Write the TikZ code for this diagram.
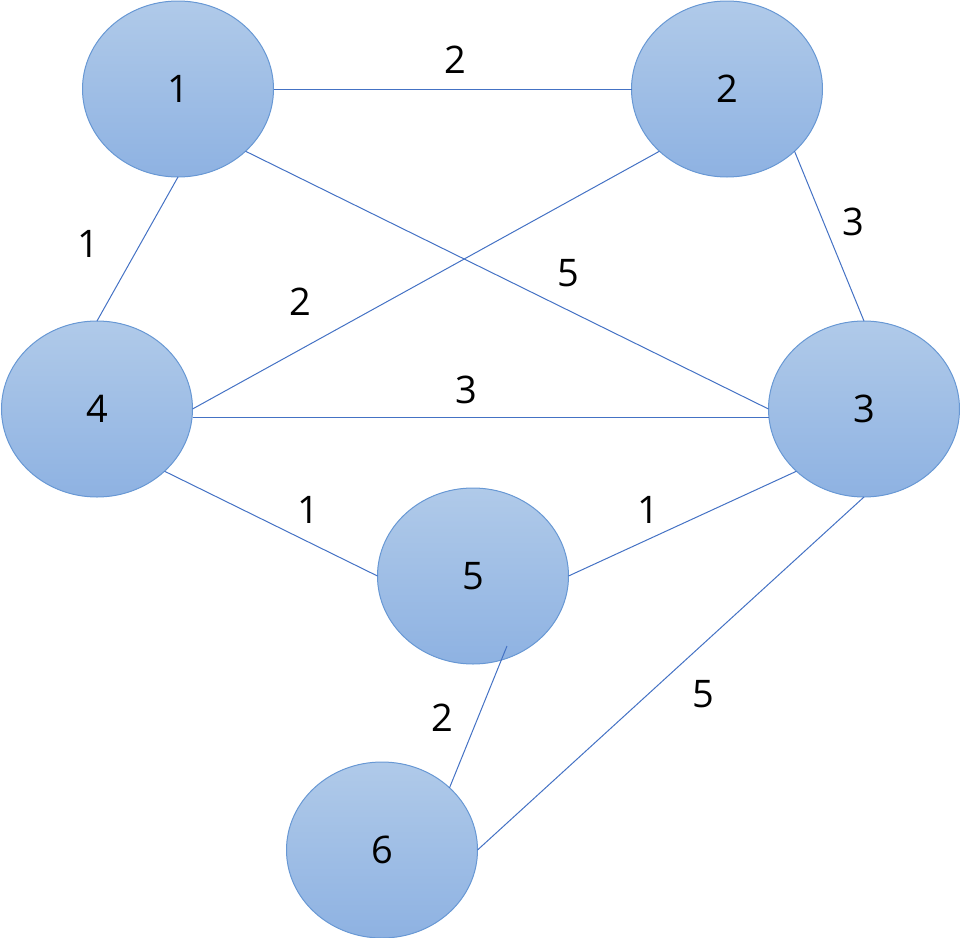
\documentclass[tikz,border=0pt]{standalone}
\usepackage{fontspec}
\setmainfont{Open Sans}
\usetikzlibrary{shapes.geometric}
\definecolor{vtop}{RGB}{176,202,233}
\definecolor{vbot}{RGB}{142,178,226}
\definecolor{vline}{RGB}{104,152,212}
\definecolor{eline}{RGB}{68,114,196}
\begin{document}
\begin{tikzpicture}[
  x=0.5pt, y=-0.5pt,
  vertex/.style={ellipse, draw=vline, line width=0.5pt, top color=vtop, bottom color=vbot,
    minimum width=95.5pt, minimum height=88pt, inner sep=0pt, outer sep=0pt,
    font=\fontsize{19}{23}\selectfont},
  edge/.style={draw=eline, line width=0.5pt},
  weight/.style={font=\fontsize{19}{23}\selectfont, inner sep=0pt}
]
\useasboundingbox (0,0) rectangle (960,938);

\node[vertex] (n1) at (178,89) {1};
\node[vertex] (n2) at (727,89) {2};
\node[vertex] (n3) at (864,409) {3};
\node[vertex] (n4) at (97,409) {4};
\node[vertex] (n5) at (473,576) {5};
\node[vertex] (n6) at (382,850) {6};
\coordinate (n5in) at (507,646);

\draw[edge] (n1.east) -- (n2.west);
\draw[edge] (n1.south) -- (n4.north);
\draw[edge] (n1.south east) -- (n3.west);
\draw[edge] (n2.south west) -- (n4.east);
\draw[edge] (n2.south east) -- (n3.north);
\draw[edge] ([yshift=-4pt]n4.east) -- ([yshift=-4pt]n3.west);
\draw[edge] (n4.south east) -- (n5.west);
\draw[edge] (n5.east) -- (n3.south west);
\draw[edge] (n5in) -- (n6.north east);
\draw[edge] (n3.south) -- (n6.east);

\node[weight] (w12) at (455,60) {2};
\node[weight] (w14) at (88,244) {1};
\node[weight] (w13) at (568,273) {5};
\node[weight] (w24) at (300,302) {2};
\node[weight] (w23) at (853,222) {3};
\node[weight] (w43) at (466,390) {3};
\node[weight] (w45) at (308,510) {1};
\node[weight] (w53) at (648,510) {1};
\node[weight] (w56) at (442,718) {2};
\node[weight] (w36) at (703,694) {5};

\end{tikzpicture}
\end{document}
